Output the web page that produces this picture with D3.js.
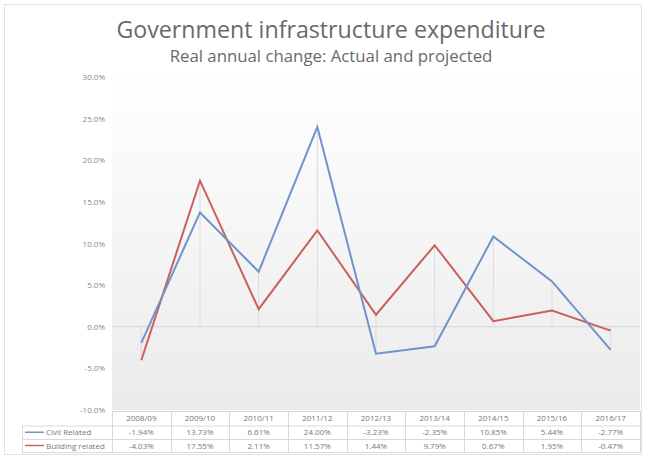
<!DOCTYPE html>
<html>
<head>
<meta charset="utf-8">
<script src="https://cdn.jsdelivr.net/npm/d3@7"></script>
<style>
  html, body { margin: 0; padding: 0; background: #fff; }
  svg { display: block; font-family: "Open Sans", "DejaVu Sans", sans-serif; }
</style>
</head>
<body>
<svg id="chart" width="646" height="460"></svg>
<script>
// Fiscal years shown along the category axis and in the data table
const years = ["2008/09", "2009/10", "2010/11", "2011/12", "2012/13", "2013/14", "2014/15", "2015/16", "2016/17"];
// Real annual change (%) by series
const civilRelated = [-1.94, 13.73, 6.61, 24.00, -3.23, -2.35, 10.85, 5.44, -2.77];
const buildingRelated = [-4.03, 17.55, 2.11, 11.57, 1.44, 9.79, 0.67, 1.95, -0.47];
const seriesNames = ["Civil Related", "Building related"];
const yTicks = [30, 25, 20, 15, 10, 5, 0, -5, -10];

const series = [
  { name: seriesNames[0], values: civilRelated, color: "#7093c9" },
  { name: seriesNames[1], values: buildingRelated, color: "#c9605d" }
];

// plain hyphen for negatives, as in a spreadsheet
const fmt = p => v => d3.format(p)(v).replace("\u2212", "-") + "%";

const svg = d3.select("#chart");
const W = 646, H = 460;

// outer frame
svg.append("rect").attr("x", 4.5).attr("y", 4.5).attr("width", W - 9).attr("height", H - 10)
  .attr("fill", "#fff").attr("stroke", "#e2e2e2");

const plot = { left: 112, right: 640, top: 77, bottom: 410 };

const x = d3.scaleBand().domain(years).range([plot.left, plot.right]);
const y = d3.scaleLinear().domain([-10, 30]).range([plot.bottom, plot.top]);

// soft vertical gradient behind the plot area
const defs = svg.append("defs");
const grad = defs.append("linearGradient").attr("id", "bg").attr("x1", 0).attr("y1", 0).attr("x2", 0).attr("y2", 1);
grad.append("stop").attr("offset", "0%").attr("stop-color", "#ffffff");
grad.append("stop").attr("offset", "100%").attr("stop-color", "#ebebeb");
svg.append("rect").attr("x", plot.left).attr("y", plot.top - 8)
  .attr("width", plot.right - plot.left).attr("height", plot.bottom - plot.top + 8)
  .attr("fill", "url(#bg)");

// titles
svg.append("text").attr("x", 331).attr("y", 38).attr("text-anchor", "middle")
  .attr("font-size", 23.2).attr("fill", "#6a6a6a").text("Government infrastructure expenditure");
svg.append("text").attr("x", 331).attr("y", 62).attr("text-anchor", "middle")
  .attr("font-size", 16.8).attr("fill", "#6a6a6a").text("Real annual change: Actual and projected");

// y axis labels
const yAxis = d3.axisLeft(y).tickValues(yTicks).tickSize(0).tickPadding(7).tickFormat(fmt(".1f"));
const gy = svg.append("g").attr("transform", `translate(${plot.left},0)`).call(yAxis);
gy.select(".domain").remove();
gy.selectAll("text").attr("font-size", 8).attr("fill", "#888").attr("font-family", "Open Sans, sans-serif");

// zero line
svg.append("line").attr("x1", plot.left).attr("x2", plot.right)
  .attr("y1", y(0)).attr("y2", y(0)).attr("stroke", "#d6d6d6").attr("stroke-width", 1);

// drop lines from the extreme points to the axis
years.forEach((yr, i) => {
  const vals = series.map(s => s.values[i]);
  const hi = Math.max(0, d3.max(vals)), lo = Math.min(0, d3.min(vals));
  svg.append("line")
    .attr("x1", x(yr) + x.bandwidth() / 2).attr("x2", x(yr) + x.bandwidth() / 2)
    .attr("y1", y(hi)).attr("y2", y(lo))
    .attr("stroke", "#dcdcdc").attr("stroke-width", 1);
});

// series lines
const line = d3.line().x((d, i) => x(years[i]) + x.bandwidth() / 2).y(d => y(d));
series.slice().reverse().forEach(s => {
  svg.append("path").datum(s.values).attr("d", line)
    .attr("fill", "none").attr("stroke", s.color).attr("stroke-width", 2)
    .attr("stroke-linejoin", "miter");
});

// data table below the chart
const rowY = [411, 425.5, 439, 452];
const tableLeft = 22;
const tg = svg.append("g").attr("stroke", "#d9d9d9").attr("stroke-width", 1).attr("fill", "none");
// horizontal rules
tg.append("line").attr("x1", plot.left).attr("x2", plot.right).attr("y1", rowY[0] + 0.5).attr("y2", rowY[0] + 0.5);
[1, 2, 3].forEach(r => {
  tg.append("line").attr("x1", tableLeft).attr("x2", plot.right).attr("y1", rowY[r] + 0.5).attr("y2", rowY[r] + 0.5);
});
// vertical rules
tg.append("line").attr("x1", tableLeft + 0.5).attr("x2", tableLeft + 0.5).attr("y1", rowY[1]).attr("y2", rowY[3]);
years.forEach(yr => {
  tg.append("line").attr("x1", Math.round(x(yr)) + 0.5).attr("x2", Math.round(x(yr)) + 0.5)
    .attr("y1", rowY[0]).attr("y2", rowY[3]);
});
tg.append("line").attr("x1", plot.right + 0.5).attr("x2", plot.right + 0.5).attr("y1", rowY[0]).attr("y2", rowY[3]);

const cellText = (tx, ty, str, anchor) => svg.append("text").attr("x", tx).attr("y", ty)
  .attr("text-anchor", anchor || "middle").attr("font-size", 8).attr("fill", "#777").text(str);

years.forEach((yr, i) => {
  const cx = x(yr) + x.bandwidth() / 2;
  cellText(cx, (rowY[0] + rowY[1]) / 2 + 3, yr);
  series.forEach((s, k) => {
    cellText(cx, (rowY[k + 1] + rowY[k + 2]) / 2 + 3, fmt(".2f")(s.values[i]));
  });
});

// legend keys in the table's first column
series.forEach((s, k) => {
  const ry = (rowY[k + 1] + rowY[k + 2]) / 2;
  svg.append("line").attr("x1", tableLeft + 3).attr("x2", tableLeft + 22)
    .attr("y1", ry).attr("y2", ry).attr("stroke", s.color).attr("stroke-width", 1.5);
  cellText(tableLeft + 24, ry + 3, s.name, "start");
});
</script>
</body>
</html>
